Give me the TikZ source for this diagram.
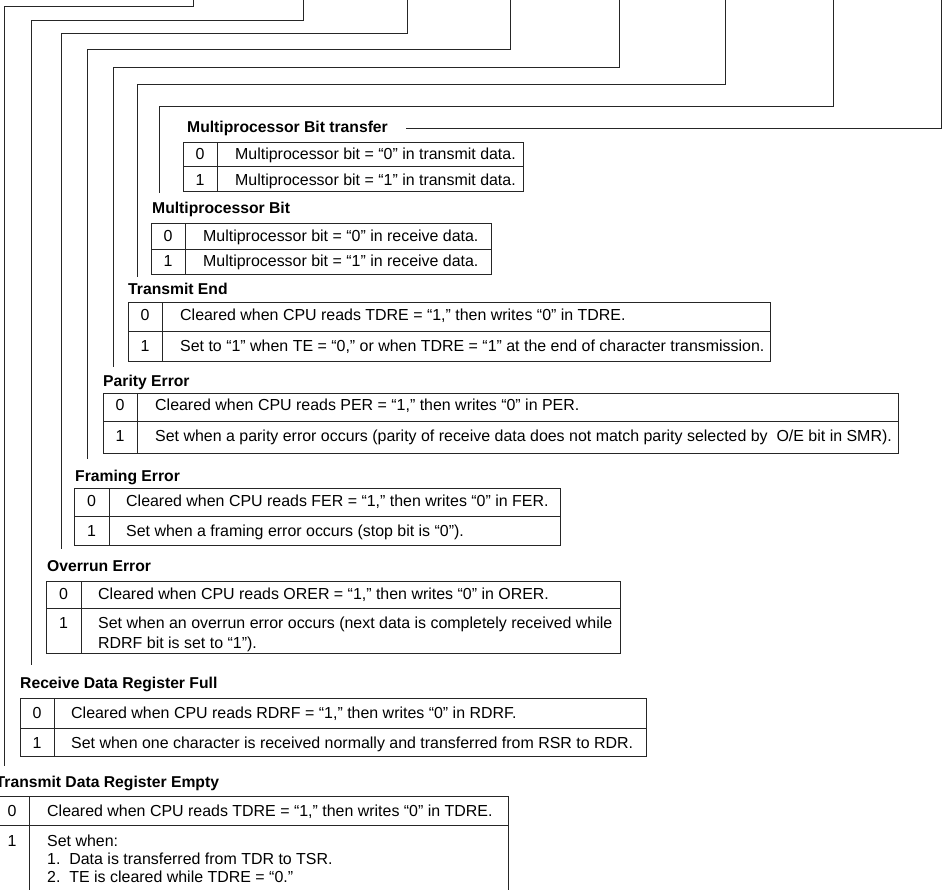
\documentclass[tikz,border=0pt]{standalone}
\usepackage{fontspec}
\setmainfont{Liberation Sans}
\usetikzlibrary{calc}
\newcommand\bittable[6]{%
  \draw[tbl] (#1,#4) rectangle (#3,#6);
  \draw[tbl] (#1,#5) -- (#3,#5);
  \draw[tbl] (#2,#4) -- (#2,#6);}
\begin{document}
\begin{tikzpicture}[x=1pt,y=-1pt,
  wire/.style={draw=black!85,line width=0.9pt},
  tbl/.style={draw=black!85,line width=0.9pt},
  ttl/.style={anchor=base west,inner sep=0pt,font=\fontsize{15.7}{19}\selectfont\bfseries},
  txt/.style={anchor=base west,inner sep=0pt,font=\fontsize{15.95}{19}\selectfont},
  num/.style={anchor=base,inner sep=0pt,font=\fontsize{15.95}{19}\selectfont}]
\useasboundingbox (0,0) rectangle (942,889);
\clip (0,0) rectangle (942,889);

% ---- titles
\node[ttl] (mpbt) at (187,132.5) {Multiprocessor Bit transfer};
\node[ttl] (mpb)  at (152,213.5) {Multiprocessor Bit};
\node[ttl] (tend) at (128,294.5) {Transmit End};
\node[ttl] (per)  at (103,386.5) {Parity Error};
\node[ttl] (fer)  at (75,481.5)  {Framing Error};
\node[ttl] (orer) at (47,571.5)  {Overrun Error};
\node[ttl] (rdrf) at (20,688.5)  {Receive Data Register Full};
\node[ttl] (tdre) at (-4.5,787.5)  {Transmit Data Register Empty};

% ---- bracket connectors from the register bits
\coordinate (top7) at (193,0);   \coordinate (bend7) at (4.5,6);
\coordinate (top6) at (303,0);   \coordinate (bend6) at (31.5,20);
\coordinate (top5) at (407,0);   \coordinate (bend5) at (61,33);
\coordinate (top4) at (510,0);   \coordinate (bend4) at (87,49);
\coordinate (top3) at (619,0);   \coordinate (bend3) at (113,67);
\coordinate (top2) at (725,0);   \coordinate (bend2) at (137,84);
\coordinate (top1) at (833,0);   \coordinate (bend1) at (159,106);
\coordinate (top0) at (941,0);

\draw[wire] (top7) |- (bend7) -- ($(bend7 |- tdre.north)+(0,-10)$);
\draw[wire] (top6) |- (bend6) -- ($(bend6 |- rdrf.north)+(0,-12)$);
\draw[wire] (top5) |- (bend5) -- ($(bend5 |- orer.north)+(0,-11)$);
\draw[wire] (top4) |- (bend4) -- ($(bend4 |- fer.north)+(0,-11)$);
\draw[wire] (top3) |- (bend3) -- ($(bend3 |- per.north)+(0,-8)$);
\draw[wire] (top2) |- (bend2) -- ($(bend2 |- tend.north)+(0,-6)$);
\draw[wire] (top1) |- (bend1) -- ($(bend1 |- mpb.north)+(0,-9)$);
\draw[wire] ([xshift=18pt]mpbt.east) -| (top0);

% ---- tables
\bittable{183}{217}{523}{142}{166}{191}
\node[num] (mpbt0) at (200,159.5) {0};
\node[txt] (mpbt0t) at (235,159.5) {Multiprocessor bit = “0” in transmit data.};
\node[num] (mpbt1) at (200,185.5) {1};
\node[txt] (mpbt1t) at (235,185.5) {Multiprocessor bit = “1” in transmit data.};

\bittable{151}{185}{491}{223}{249}{274}
\node[num] (mpb0) at (168,241.5) {0};
\node[txt] (mpb0t) at (203,241.5) {Multiprocessor bit = “0” in receive data.};
\node[num] (mpb1) at (168,266.5) {1};
\node[txt] (mpb1t) at (203,266.5) {Multiprocessor bit = “1” in receive data.};

\bittable{128}{162}{770}{302}{331}{361}
\node[num] (tend0) at (145,320.5) {0};
\node[txt] (tend0t) at (180,320.5) {Cleared when CPU reads TDRE = “1,” then writes “0” in TDRE.};
\node[num] (tend1) at (145,351.5) {1};
\node[txt] (tend1t) at (180,351.5) {Set to “1” when TE = “0,” or when TDRE = “1” at the end of character transmission.};

\bittable{103}{137}{898}{393}{421}{453}
\node[num] (per0) at (120,410.5) {0};
\node[txt] (per0t) at (155,410.5) {Cleared when CPU reads PER = “1,” then writes “0” in PER.};
\node[num] (per1) at (120,441.5) {1};
\node[txt] (per1t) at (155,441.5) {Set when a parity error occurs (parity of receive data does not match parity selected by \ O/E bit in SMR).};

\bittable{74}{109}{560}{488}{516}{545}
\node[num] (fer0) at (91.5,506.5) {0};
\node[txt] (fer0t) at (126,506.5) {Cleared when CPU reads FER = “1,” then writes “0” in FER.};
\node[num] (fer1) at (91.5,536.5) {1};
\node[txt] (fer1t) at (126,536.5) {Set when a framing error occurs (stop bit is “0”).};

\bittable{46}{81}{620}{581}{608}{653}
\node[num] (orer0) at (63.5,599.5) {0};
\node[txt] (orer0t) at (98,599.5) {Cleared when CPU reads ORER = “1,” then writes “0” in ORER.};
\node[num] (orer1) at (63.5,628.5) {1};
\node[txt] (orer1t) at (98,628.5) {Set when an overrun error occurs (next data is completely received while};
\node[txt] (orer1u) at (98,648.5) {RDRF bit is set to “1”).};

\bittable{20}{54}{646}{698}{728}{756}
\node[num] (rdrf0) at (37,718.5) {0};
\node[txt] (rdrf0t) at (71,718.5) {Cleared when CPU reads RDRF = “1,” then writes “0” in RDRF.};
\node[num] (rdrf1) at (37,748.5) {1};
\node[txt] (rdrf1t) at (71,748.5) {Set when one character is received normally and transferred from RSR to RDR.};

\bittable{-5.5}{29}{508}{796}{825}{895}
\node[num] (tdre0) at (12,816.5) {0};
\node[txt] (tdre0t) at (47,816.5) {Cleared when CPU reads TDRE = “1,” then writes “0” in TDRE.};
\node[num] (tdre1) at (12,846.5) {1};
\node[txt] (tdre1t) at (47,846.5) {Set when:};
\node[txt] (tdre1u) at (47,864.5) {1.\ \ Data is transferred from TDR to TSR.};
\node[txt] (tdre1v) at (47,882.5) {2.\ \ TE is cleared while TDRE = “0.”};
\end{tikzpicture}
\end{document}
